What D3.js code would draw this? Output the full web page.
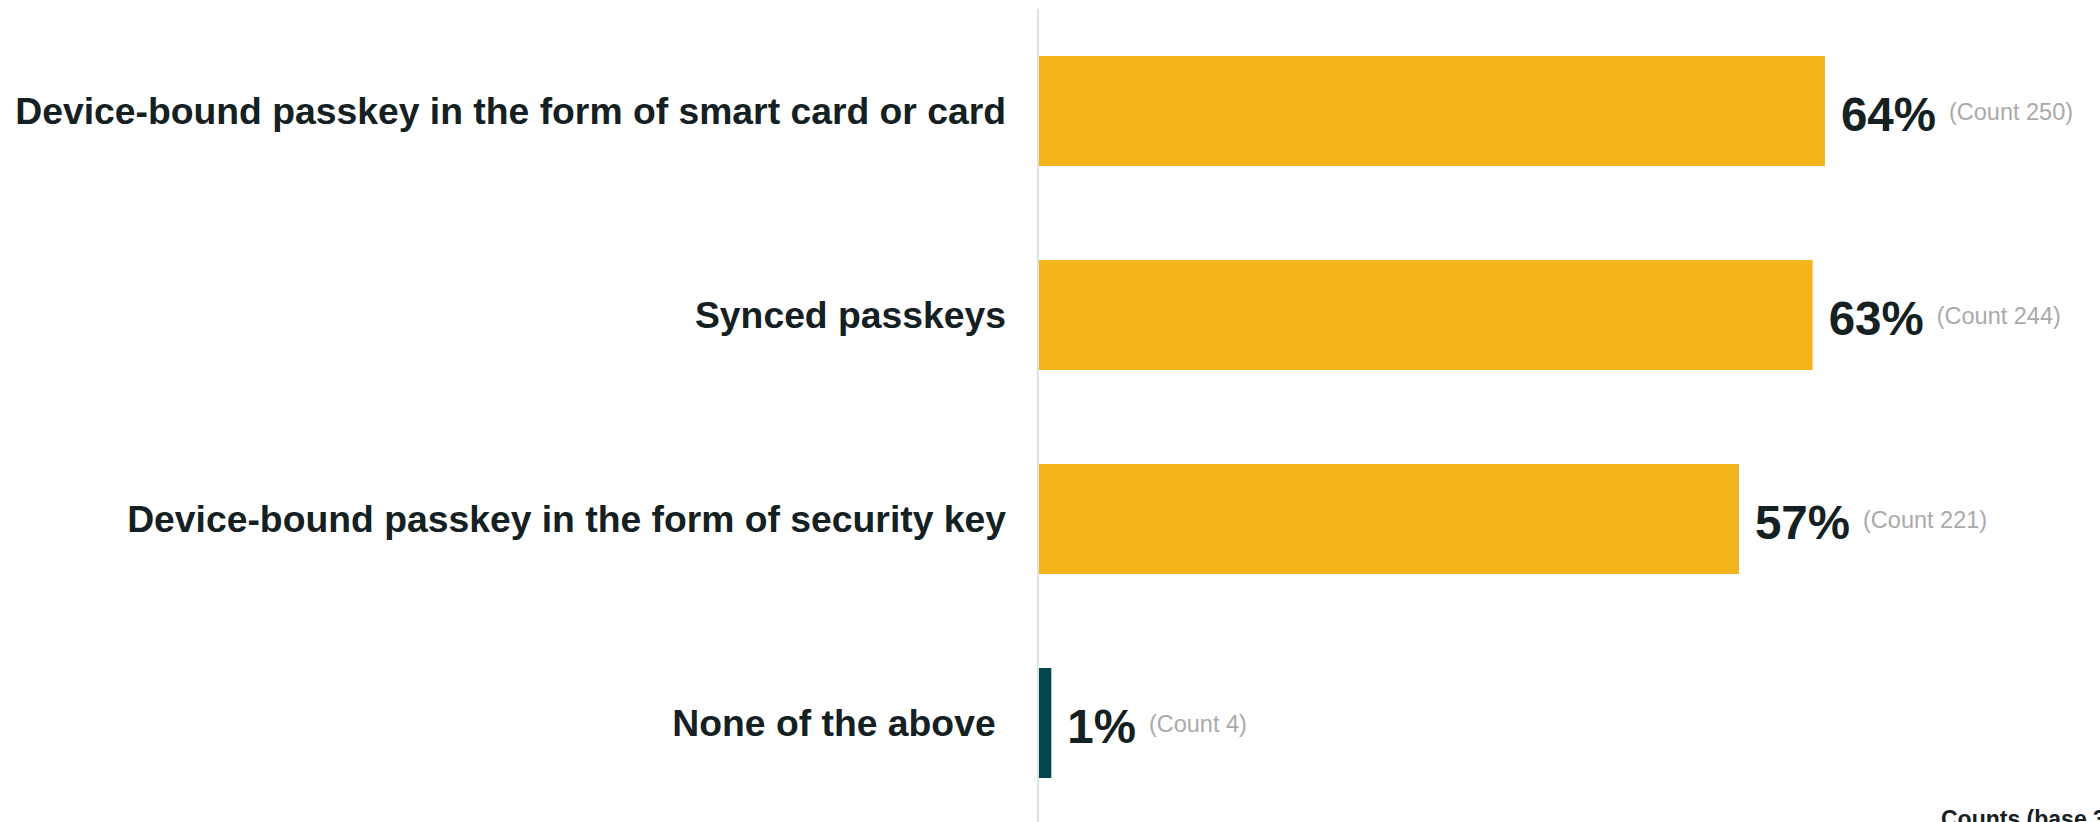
<!DOCTYPE html>
<html>
<head>
<meta charset="utf-8">
<script src="https://cdn.jsdelivr.net/npm/d3@7/dist/d3.min.js"></script>
<style>
  html, body { margin: 0; padding: 0; background: #ffffff; overflow: hidden; }
  svg { display: block; }
  text { font-family: "Liberation Sans", Arial, Helvetica, sans-serif; }
</style>
</head>
<body>
<div id="chart"></div>
<script>
// Survey answers: which passkey types are in use
const categories = [
  "Device-bound passkey in the form of smart card or card",
  "Synced passkeys",
  "Device-bound passkey in the form of security key",
  "None of the above "
];
const percents = [64, 63, 57, 1];
const counts = [250, 244, 221, 4];
const barColors = ["#F3B41C", "#F3B41C", "#F3B41C", "#02474D"];
const footnote = "Counts (base 390)";

const W = 2100, H = 822;

const svg = d3.select("#chart").append("svg")
  .attr("width", W)
  .attr("height", H);

const x = d3.scaleLinear().domain([0, 100]).range([1039, 2267]);
const y = d3.scaleBand()
  .domain(categories)
  .range([9, 825])
  .paddingInner(94 / 204)
  .paddingOuter(47 / 204);

const rows = categories.map((c, i) => ({
  cat: c, pct: percents[i], count: counts[i], color: barColors[i]
}));

// baseline (zero) rule
svg.append("line")
  .attr("x1", x(0) - 1).attr("x2", x(0) - 1)
  .attr("y1", 9).attr("y2", H)
  .attr("stroke", "#d8e3e5")
  .attr("stroke-width", 2);

// bars
svg.append("g").selectAll("rect")
  .data(rows)
  .join("rect")
  .attr("x", x(0))
  .attr("y", d => y(d.cat))
  .attr("width", d => x(d.pct) - x(0))
  .attr("height", y.bandwidth())
  .attr("fill", d => d.color);

// category labels
svg.append("g").selectAll("text")
  .data(rows)
  .join("text")
  .attr("x", 1006)
  .attr("y", d => y(d.cat) + y.bandwidth() / 2 + 13)
  .attr("text-anchor", "end")
  .style("white-space", "pre")
  .attr("font-size", 37.3)
  .attr("font-weight", "bold")
  .attr("fill", "#152022")
  .text(d => d.cat);

// value labels: percentage followed by the count
const vals = svg.append("g").selectAll("g")
  .data(rows)
  .join("g");

vals.append("text")
  .attr("class", "pct")
  .attr("x", d => x(d.pct) + 16)
  .attr("y", d => y(d.cat) + y.bandwidth() / 2 + 20)
  .attr("font-size", 47.5)
  .attr("font-weight", "bold")
  .attr("fill", "#152022")
  .text(d => d.pct + "%");

vals.each(function (d) {
  const g = d3.select(this);
  const p = g.select("text.pct");
  const end = +p.attr("x") + p.node().getComputedTextLength();
  g.append("text")
    .attr("x", end + 13)
    .attr("y", y(d.cat) + y.bandwidth() / 2 + 9)
    .attr("font-size", 23.5)
    .attr("fill", "#aaaaaa")
    .text("(Count " + d.count + ")");
});

// footnote in the bottom-right corner
svg.append("text")
  .attr("x", 1941)
  .attr("y", 827)
  .attr("font-size", 23)
  .attr("font-weight", "bold")
  .attr("fill", "#152022")
  .text(footnote);
</script>
</body>
</html>
